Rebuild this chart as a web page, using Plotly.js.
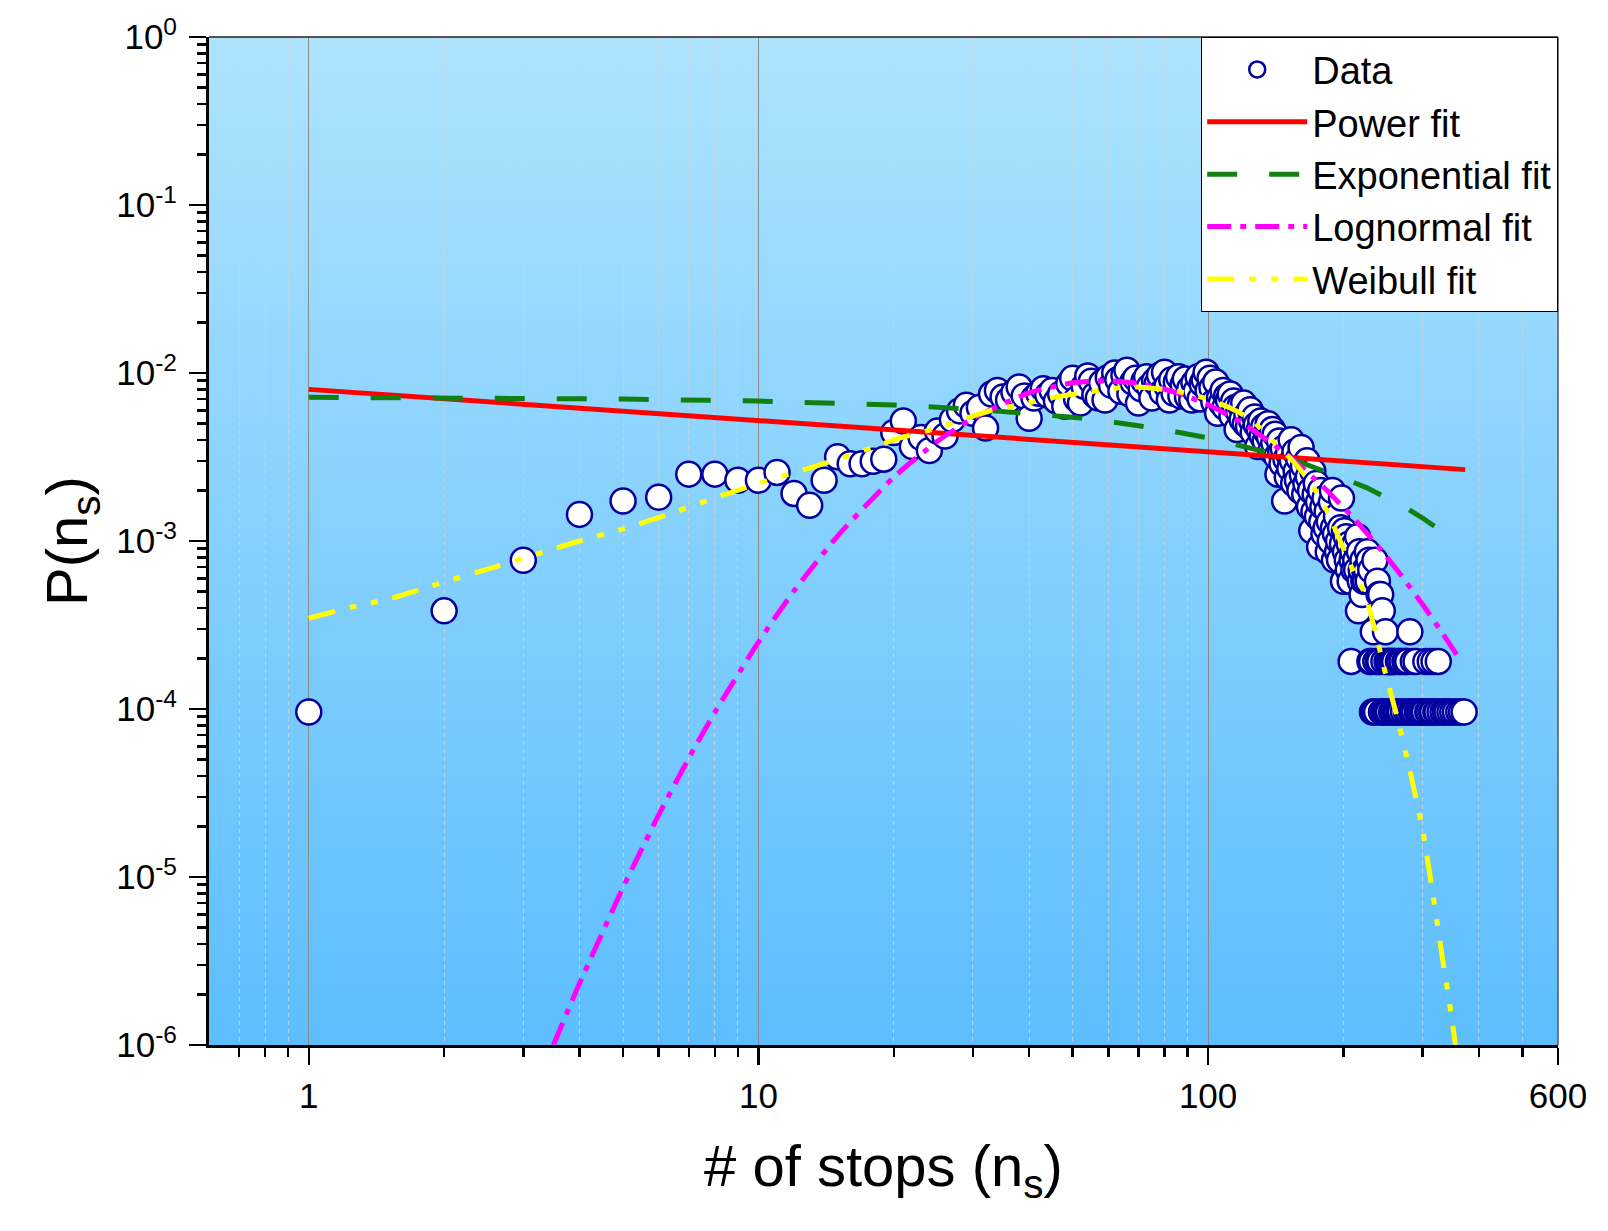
<!DOCTYPE html>
<html>
<head>
<meta charset="utf-8">
<script src="https://cdn.plot.ly/plotly-3.0.1.min.js"></script>
<style>
html,body{margin:0;padding:0;background:#ffffff;}
#chart{width:1608px;height:1231px;}
</style>
</head>
<body>
<div id="chart"></div>
<script>
// ---------------- data ----------------
const stopsX = [
  1,2,3,4,5,6,7,8,9,10,11,12,13,14,15,16,17,18,19,20,
  21,22,23,24,25,26,27,28,29,30,31,32,33,34,35,36,37,38,39,40,
  41,42,43,44,45,46,47,48,49,50,51,52,53,54,55,56,57,58,59,60,
  61,62,63,64,65,66,67,68,69,70,71,72,73,74,75,76,77,78,79,80,
  81,82,83,84,85,86,87,88,89,90,91,92,93,94,95,96,97,98,99,100,
  101,102,103,104,105,106,107,108,109,110,111,112,113,114,115,116,117,118,119,120,
  121,122,123,124,125,126,127,128,129,130,131,132,133,134,135,136,137,138,139,140,
  141,142,143,144,145,146,147,148,149,150,151,152,153,154,155,156,157,158,159,160,
  161,162,163,164,165,166,167,168,169,170,171,172,173,174,175,176,177,178,179,180,
  181,182,183,184,185,186,187,188,189,190,191,192,193,194,195,196,197,198,199,200,
  201,202,203,204,205,206,207,208,209,210,211,212,213,214,215,216,217,218,219,220,
  221,222,223,224,225,226,227,228,229,230,231,232,233,234,235,236,237,238,239,240,
  241,242,243,244,245,246,247,248,249,250,251,252,253,254,255,256,257,258,259,260,
  261,263,265,266,267,268,270,272,274,275,276,278,279,281,283,285,286,288,290,292,
  295,298,300,303,305,308,310,312,314,316,318,321,323,325,328,333,337,340,345,350,
  355,361,366,371
];
const probP = [
  9.6e-5,3.84e-4,7.68e-4,1.44e-3,1.73e-3,1.82e-3,2.50e-3,2.50e-3,2.30e-3,2.30e-3,
  2.56e-3,1.92e-3,1.63e-3,2.30e-3,3.17e-3,2.88e-3,2.88e-3,2.98e-3,3.07e-3,4.42e-3,
  5.18e-3,3.65e-3,4.13e-3,3.46e-3,4.51e-3,4.22e-3,5.28e-3,5.95e-3,6.43e-3,5.76e-3,
  6.24e-3,4.70e-3,7.49e-3,7.87e-3,7.20e-3,6.91e-3,7.68e-3,8.26e-3,7.30e-3,5.38e-3,
  7.10e-3,7.58e-3,8.06e-3,7.39e-3,7.87e-3,6.82e-3,7.49e-3,6.34e-3,8.64e-3,9.31e-3,
  7.01e-3,6.62e-3,8.35e-3,9.60e-3,8.93e-3,7.39e-3,7.10e-3,8.74e-3,6.91e-3,9.41e-3,
  8.45e-3,1.00e-2,9.12e-3,7.78e-3,9.70e-3,1.04e-2,7.49e-3,8.83e-3,9.31e-3,6.62e-3,
  8.06e-3,8.93e-3,9.50e-3,8.26e-3,7.10e-3,8.98e-3,8.64e-3,9.70e-3,7.68e-3,1.01e-2,
  8.35e-3,6.91e-3,9.12e-3,7.58e-3,8.83e-3,9.50e-3,7.30e-3,8.54e-3,9.22e-3,7.20e-3,
  8.06e-3,6.91e-3,8.74e-3,7.78e-3,9.50e-3,7.01e-3,8.64e-3,9.12e-3,1.01e-2,7.87e-3,
  9.31e-3,8.16e-3,6.72e-3,8.83e-3,5.76e-3,7.10e-3,6.62e-3,7.87e-3,6.24e-3,7.30e-3,
  6.91e-3,7.49e-3,5.57e-3,6.82e-3,6.24e-3,4.61e-3,5.86e-3,6.43e-3,5.28e-3,6.62e-3,
  4.99e-3,5.66e-3,4.80e-3,6.05e-3,5.18e-3,4.42e-3,5.47e-3,4.90e-3,3.65e-3,4.61e-3,
  5.18e-3,4.22e-3,4.80e-3,3.94e-3,4.42e-3,4.99e-3,4.13e-3,3.46e-3,4.61e-3,3.84e-3,
  4.32e-3,3.17e-3,2.50e-3,3.94e-3,3.36e-3,2.88e-3,3.55e-3,1.73e-3,3.07e-3,2.40e-3,
  3.30e-3,2.70e-3,4.00e-3,3.00e-3,2.20e-3,3.40e-3,2.60e-3,2.30e-3,3.10e-3,2.00e-3,
  3.60e-3,2.50e-3,2.80e-3,1.90e-3,2.20e-3,3.00e-3,2.40e-3,1.60e-3,2.00e-3,1.15e-3,
  2.60e-3,1.50e-3,1.90e-3,2.20e-3,1.40e-3,1.70e-3,9.2e-4,2.00e-3,1.30e-3,1.60e-3,
  1.10e-3,1.80e-3,1.20e-3,1.50e-3,8.6e-4,1.30e-3,1.00e-3,1.70e-3,2.00e-3,1.20e-3,
  7.7e-4,1.10e-3,1.40e-3,8.6e-4,1.00e-3,7.7e-4,1.20e-3,1.80e-3,9.6e-4,5.76e-4,
  1.15e-3,8.64e-4,1.06e-3,7.68e-4,6.72e-4,9.6e-4,5.76e-4,1.92e-4,7.68e-4,8.64e-4,
  6.72e-4,9.6e-4,7.68e-4,6.72e-4,1.06e-3,3.84e-4,8.64e-4,5.76e-4,6.72e-4,4.8e-4,
  7.68e-4,5.76e-4,6.72e-4,5.76e-4,6.72e-4,8.64e-4,5.76e-4,7.68e-4,1.92e-4,6.72e-4,
  1.92e-4,9.6e-5,2.88e-4,9.6e-5,7.68e-4,1.92e-4,9.6e-5,5.76e-4,1.92e-4,4.8e-4,
  1.92e-4,4.8e-4,9.6e-5,3.84e-4,9.6e-5,1.92e-4,9.6e-5,2.88e-4,9.6e-5,1.92e-4,
  1.92e-4,9.6e-5,1.92e-4,1.92e-4,1.92e-4,9.6e-5,1.92e-4,9.6e-5,1.92e-4,1.92e-4,
  9.6e-5,9.6e-5,1.92e-4,9.6e-5,1.92e-4,9.6e-5,1.92e-4,9.6e-5,1.92e-4,1.92e-4,
  9.6e-5,1.92e-4,9.6e-5,2.88e-4,9.6e-5,9.6e-5,1.92e-4,9.6e-5,1.92e-4,9.6e-5,
  9.6e-5,9.6e-5,9.6e-5,9.6e-5,1.92e-4,9.6e-5,9.6e-5,1.92e-4,9.6e-5,9.6e-5,
  1.92e-4,9.6e-5,9.6e-5,1.92e-4,9.6e-5,9.6e-5,9.6e-5,9.6e-5,9.6e-5,9.6e-5,
  9.6e-5,9.6e-5,9.6e-5,9.6e-5
];

// fitted curves, values
const powerX = [1, 10, 100, 373];
const powerP = [7.99e-3, 5.20e-3, 3.40e-3, 2.66e-3];

const expoX = [1,2,5,10,20,30,40,50,60,70,80,100,120,140,160,180,200,225,250,275,300,325,357];
const expoP = [7.16e-3,7.12e-3,7.00e-3,6.81e-3,6.45e-3,6.09e-3,5.76e-3,5.45e-3,5.15e-3,4.87e-3,
               4.60e-3,4.11e-3,3.68e-3,3.30e-3,2.95e-3,2.64e-3,2.36e-3,2.08e-3,1.81e-3,1.58e-3,
               1.37e-3,1.19e-3,0.99e-3];

const lognX = [3.5,4,5,6,7,8,10,12,15,20,25,30,40,50,60,70,85,100,120,150,180,210,240,270,300,330,366];
const lognP = [1.00e-6,2.32e-6,8.66e-6,2.34e-5,5.09e-5,9.56e-5,2.50e-4,5.05e-4,1.07e-3,2.40e-3,
               3.92e-3,5.38e-3,7.62e-3,8.74e-3,8.99e-3,8.67e-3,7.66e-3,6.47e-3,4.98e-3,3.25e-3,
               2.11e-3,1.38e-3,9.15e-4,6.14e-4,4.19e-4,2.90e-4,1.90e-4];

const weibX = [1,1.25,1.5,2,2.5,3,4,5,6.4,7.5,10,13.3,15.6,18.3,20.5,24.8,28.9,33,39.4,45.7,
               51.5,59.3,66.7,72.5,85,97,112.7,125,138.5,156,169.6,185,205,215,223,235,247,262,
               280,300,320,335,342,348,355];
const weibP = [3.47e-4,4.05e-4,4.50e-4,5.70e-4,6.80e-4,7.90e-4,1.00e-3,1.18e-3,1.46e-3,1.70e-3,
               2.20e-3,2.77e-3,3.17e-3,3.67e-3,4.08e-3,4.68e-3,5.37e-3,6.00e-3,6.60e-3,7.20e-3,
               7.56e-3,7.98e-3,8.28e-3,8.20e-3,7.80e-3,7.16e-3,6.15e-3,5.25e-3,4.00e-3,2.90e-3,
               2.20e-3,1.46e-3,7.70e-4,5.86e-4,4.90e-4,2.95e-4,1.70e-4,9.40e-5,
               4.5e-5,1.9e-5,6.4e-6,2.8e-6,2.0e-6,1.45e-6,1.0e-6];

const xTickVals = [1, 10, 100, 600];
const xTickText = ['1', '10', '100', '600'];
const xMinorVals = [0.7,0.8,0.9,2,3,4,5,6,7,8,9,20,30,40,50,60,70,80,90,200,300,400,500];
const yTickVals = [1e-6,1e-5,1e-4,1e-3,1e-2,1e-1,1];
const yTickText = ['10<sup>-6</sup>','10<sup>-5</sup>','10<sup>-4</sup>','10<sup>-3</sup>','10<sup>-2</sup>','10<sup>-1</sup>','10<sup>0</sup>'];
const yMinorVals = [];
[1e-6,1e-5,1e-4,1e-3,1e-2,1e-1].forEach(d => { for (let m = 2; m <= 9; m++) yMinorVals.push(+(m * d).toPrecision(3)); });

// ---------------- chart ----------------
const FONT = 'Liberation Sans, Arial, Helvetica, sans-serif';

const traces = [
  {x: stopsX, y: probP, name: 'Data', type: 'scatter', mode: 'markers',
   marker: {symbol: 'circle', size: 25, color: '#ffffff', line: {color: '#0000A0', width: 2.5}}},
  {x: powerX, y: powerP, name: 'Power fit', type: 'scatter', mode: 'lines',
   line: {color: '#FF0000', width: 5}},
  {x: expoX, y: expoP, name: 'Exponential fit', type: 'scatter', mode: 'lines',
   line: {color: '#108010', width: 5, dash: '30px,32px'}},
  {x: lognX, y: lognP, name: 'Lognormal fit', type: 'scatter', mode: 'lines', line: {shape: 'spline', smoothing: 0.6,
   color: '#FF00FF', width: 5, dash: '24px,9px,6px,9px'}},
  {x: weibX, y: weibP, name: 'Weibull fit', type: 'scatter', mode: 'lines', line: {shape: 'spline', smoothing: 0.6,
   color: '#FFFF00', width: 5, dash: '27px,15px,7px,15px,7px,15px'}}
];

const gradSvg = "<svg xmlns='http://www.w3.org/2000/svg' width='10' height='100' preserveAspectRatio='none'>" +
  "<defs><linearGradient id='g' x1='0' y1='0' x2='0' y2='1'>" +
  "<stop offset='0' stop-color='#AEE3FD'/><stop offset='1' stop-color='#5CBEFD'/></linearGradient></defs>" +
  "<rect x='0' y='0' width='10' height='100' fill='url(#g)'/></svg>";
const gradUri = 'data:image/svg+xml;charset=utf-8,' + encodeURIComponent(gradSvg);

const layout = {
  width: 1608, height: 1231,
  margin: {l: 209, r: 50, t: 37, b: 186, pad: 0},
  paper_bgcolor: '#ffffff',
  plot_bgcolor: 'rgba(0,0,0,0)',
  font: {family: FONT, size: 35, color: '#000'},
  showlegend: true,
  legend: {
    x: 1, xanchor: 'right', y: 1, yanchor: 'top',
    bgcolor: '#ffffff', bordercolor: '#000000', borderwidth: 1.2,
    font: {family: FONT, size: 38, color: '#000'},
    itemwidth: 100, tracegroupgap: 0
  },
  xaxis: {
    type: 'log', range: [Math.log10(0.6), Math.log10(600)],
    tickmode: 'array', tickvals: xTickVals, ticktext: xTickText,
    ticks: 'outside', ticklen: 17, tickwidth: 2.5, tickcolor: '#000',
    ticklabelstandoff: 1,
    showline: true, linewidth: 3, linecolor: '#000', mirror: false,
    showgrid: true, gridcolor: '#8a8a8a', gridwidth: 1,
    zeroline: false,
    tickfont: {family: FONT, size: 35, color: '#000'},
    minor: {tickmode: 'array', tickvals: xMinorVals, ticks: 'outside', ticklen: 9, tickwidth: 2.5,
            tickcolor: '#000', showgrid: true, gridcolor: 'rgba(205,210,215,0.9)', gridwidth: 1, griddash: '4px,4px'},
    title: {text: '# of stops (n<sub>s</sub>)', font: {family: FONT, size: 58, color: '#000'}, standoff: 32},
    automargin: false
  },
  yaxis: {
    type: 'log', range: [-6, 0],
    tickmode: 'array', tickvals: yTickVals, ticktext: yTickText,
    ticks: 'outside', ticklen: 17, tickwidth: 2.5, tickcolor: '#000',
    ticklabelstandoff: 5,
    showline: true, linewidth: 3, linecolor: '#000', mirror: false,
    showgrid: false, zeroline: false,
    tickfont: {family: FONT, size: 35, color: '#000'},
    minor: {tickmode: 'array', tickvals: yMinorVals, ticks: 'outside', ticklen: 9, tickwidth: 2.5,
            tickcolor: '#000', showgrid: false},
    title: {text: 'P(n<sub>s</sub>)', font: {family: FONT, size: 58, color: '#000'}, standoff: 10},
    automargin: false
  },
  images: [{
    source: gradUri, xref: 'paper', yref: 'paper', x: 0, y: 1, sizex: 1, sizey: 1,
    xanchor: 'left', yanchor: 'top', sizing: 'stretch', layer: 'below'
  }],
  shapes: [
    {type: 'line', xref: 'paper', yref: 'paper', x0: 0, x1: 1, y0: 1, y1: 1, line: {color: '#222', width: 1.5}},
    {type: 'line', xref: 'paper', yref: 'paper', x0: 1, x1: 1, y0: 0, y1: 1, line: {color: '#556', width: 1.5}}
  ]
};

Plotly.newPlot('chart', traces, layout, {displayModeBar: false, staticPlot: true});
</script>
</body>
</html>
